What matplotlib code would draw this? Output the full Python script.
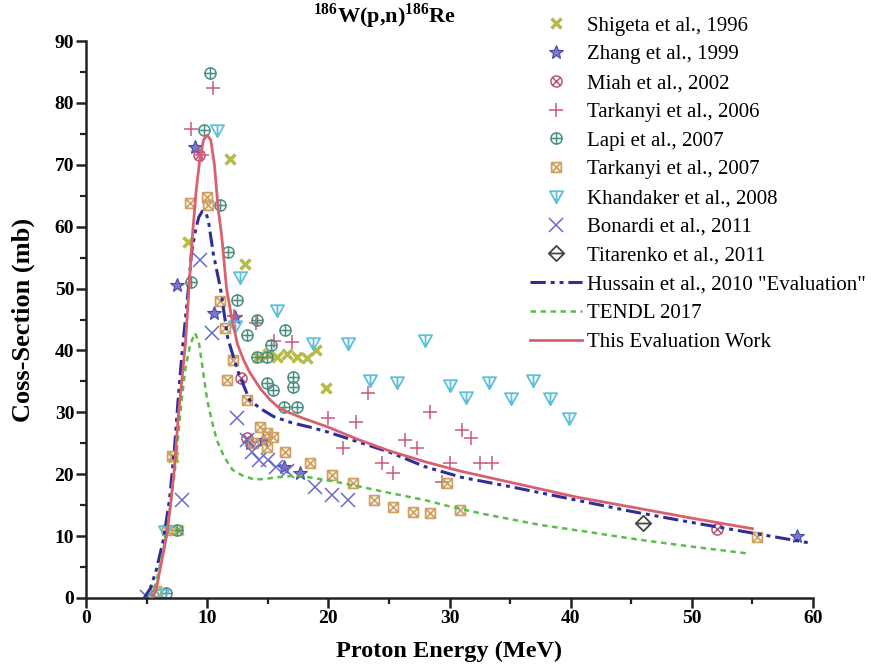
import numpy as np
import matplotlib
matplotlib.use('Agg')
import matplotlib.pyplot as plt
from matplotlib.path import Path

###############################################################################
# Data

# Experimental points (energy in MeV, cross-section in mb)
shigeta_E = [7.2, 7.6, 8.4, 11.9, 13.1, 14.2, 15.0, 15.8, 16.6, 17.4, 18.2, 19.0, 19.8]
shigeta_s = [22.8, 11.0, 57.5, 71.0, 54.0, 39.0, 39.5, 39.0, 39.5, 39.0, 38.8, 40.0, 34.0]

zhang_E = [7.5, 9.0, 10.6, 12.3, 13.5, 14.6, 16.3, 17.7, 58.7]
zhang_s = [50.6, 72.9, 46.0, 45.4, 25.0, 25.5, 21.2, 20.2, 10.0]

miah_E = [9.3, 12.8, 13.3, 52.1]
miah_s = [71.5, 35.5, 25.8, 11.1]

tark06_E = [8.7, 9.6, 10.5, 12.2, 14.0, 15.5, 17.0, 20.0, 21.2, 22.3, 23.3, 24.4,
            25.3, 26.3, 27.3, 28.4, 29.4, 30.0, 31.0, 31.8, 32.5, 33.5]
tark06_s = [75.8, 71.5, 82.4, 45.5, 44.5, 41.5, 41.4, 29.1, 24.2, 28.4, 33.1, 21.8,
            20.2, 25.5, 24.2, 30.0, 18.7, 21.8, 27.1, 25.8, 21.8, 21.8]

lapi_E = [6.6, 7.5, 8.7, 9.7, 10.2, 11.1, 11.7, 12.5, 13.3, 14.1, 14.1, 14.9,
          15.3, 16.4, 14.9, 15.4, 17.1, 17.1, 16.3, 17.4]
lapi_s = [0.8, 11.0, 51.0, 75.6, 84.8, 63.5, 55.9, 48.1, 42.5, 45.0, 38.9, 38.9,
          40.9, 43.3, 34.7, 33.6, 35.7, 34.1, 30.9, 30.9]

tark07_E = [5.8, 6.7, 7.1, 8.6, 10.0, 10.1, 11.1, 11.5, 11.6, 12.1, 13.3, 13.8,
            14.4, 14.9, 14.9, 15.4, 16.4, 18.5, 20.3, 22.0, 23.8, 25.3, 27.0,
            28.4, 29.8, 30.9, 55.4]
tark07_s = [1.2, 11.0, 23.0, 63.8, 64.8, 63.5, 48.0, 43.6, 35.2, 38.4, 32.0, 25.0,
            27.6, 26.7, 24.4, 26.0, 23.6, 21.8, 19.9, 18.6, 15.8, 14.7, 13.9,
            13.7, 18.6, 14.2, 9.9]

khand_E = [6.3, 6.5, 10.8, 12.3, 12.7, 15.8, 18.7, 21.6, 28.0, 23.4, 25.7, 30.0,
           31.4, 33.3, 35.1, 36.9, 38.3, 39.9]
khand_s = [0.5, 10.8, 75.6, 44.0, 51.9, 46.5, 41.2, 41.2, 41.7, 35.2, 34.9, 34.4,
           32.5, 34.9, 32.3, 35.2, 32.3, 29.1]

bonardi_E = [5.0, 7.9, 9.4, 10.4, 12.5, 13.3, 13.7, 14.3, 15.0, 15.7, 16.6, 18.9, 20.3, 21.6]
bonardi_s = [0.2, 15.8, 54.6, 42.8, 29.1, 25.5, 23.6, 22.3, 22.3, 21.2, 20.6, 18.0, 16.6, 15.9]

titar_E = [46.0]
titar_s = [12.1]

# Evaluated curves
hussain_E = [4.8, 5.3, 5.8, 6.4, 6.9, 7.3, 7.6, 7.9, 8.2, 8.5, 8.7, 9.0, 9.3, 9.6,
             9.9, 10.1, 10.5, 11.1, 11.7, 12.5, 13.5, 14.4, 15.5, 17.0, 18.5, 20.0,
             22.5, 25.0, 28.0, 31.0, 35.0, 40.0, 45.0, 50.0, 55.0, 59.7]
hussain_s = [0.0, 1.5, 4.5, 9.5, 16.0, 24.0, 32.0, 39.0, 45.0, 51.0, 55.7, 59.0, 61.5, 62.5,
             62.2, 61.0, 55.7, 50.0, 42.0, 36.8, 32.0, 30.6, 29.3, 28.3, 27.6, 26.8,
             25.2, 23.6, 21.2, 19.5, 18.0, 16.0, 14.0, 12.2, 10.5, 8.9]

tendl_E = [5.3, 5.8, 6.4, 6.9, 7.3, 7.6, 7.9, 8.2, 8.6, 9.0, 9.3, 9.6, 10.0, 10.4,
           10.8, 11.4, 12.1, 12.9, 13.8, 14.7, 15.7, 17.5, 20.0, 22.6, 25.0, 28.0,
           30.0, 33.0, 37.5, 41.0, 45.7, 50.0, 54.6]
tendl_s = [0.0, 2.5, 8.0, 14.0, 20.0, 26.0, 32.0, 37.0, 41.0, 42.8, 41.5, 37.5, 32.0, 28.5,
           25.5, 22.8, 20.7, 19.8, 19.2, 19.2, 19.5, 19.8, 19.0, 18.0, 17.0, 15.8,
           14.8, 13.5, 11.8, 10.8, 9.4, 8.3, 7.2]

this_E = [5.5, 5.8, 6.2, 6.7, 7.0, 7.3, 7.6, 7.9, 8.2, 8.5, 8.8, 9.1, 9.4, 9.7, 10.0,
          10.3, 10.6, 10.9, 11.2, 11.6, 12.0, 12.5, 13.0, 13.5, 14.4, 15.2, 16.0,
          17.7, 20.0, 22.6, 25.0, 28.0, 30.9, 35.0, 40.5, 45.0, 50.0, 55.0]
this_s = [0.0, 1.5, 5.5, 10.5, 15.5, 21.0, 29.0, 35.0, 41.0, 50.0, 59.0, 66.0, 71.0, 74.0, 74.8,
          74.0, 70.0, 63.0, 58.5, 50.0, 45.5, 41.0, 38.5, 36.5, 33.8, 32.0, 30.6,
          29.2, 27.6, 25.5, 23.8, 22.0, 20.5, 18.7, 16.3, 14.7, 12.9, 11.2]

###############################################################################
# Marker shapes

M, L, C = Path.MOVETO, Path.LINETO, Path.CLOSEPOLY
circ = Path.unit_circle()
circ_x = Path.make_compound_path(circ, Path([(-0.7, -0.7), (0.7, 0.7), (-0.7, 0.7), (0.7, -0.7)], [M, L, M, L]))
circ_plus = Path.make_compound_path(circ, Path([(-1, 0), (1, 0), (0, -1), (0, 1)], [M, L, M, L]))
square_x = Path([(-1, -1), (1, -1), (1, 1), (-1, 1), (-1, -1),
                 (-1, -1), (1, 1), (-1, 1), (1, -1)],
                [M, L, L, L, C, M, L, M, L])
tri_line = Path([(-1, 0.8), (1, 0.8), (0, -1), (-1, 0.8), (0, 0.8), (0, -1)],
                [M, L, L, C, M, L])
diam_line = Path([(0, 1), (1, 0), (0, -1), (-1, 0), (0, 1), (-1, 0), (1, 0)],
                 [M, L, L, L, C, M, L])

###############################################################################

plt.rcParams['font.family'] = ['Liberation Serif', 'DejaVu Serif']
plt.rcParams['mathtext.fontset'] = 'custom'
plt.rcParams['mathtext.rm'] = 'Liberation Serif'
plt.rcParams['mathtext.bf'] = 'Liberation Serif:bold'

fig = plt.figure(figsize=(8.71, 6.64), dpi=100)
ax = fig.add_axes([86/871, 1-598/664, (813-86)/871, (598-41)/664])

ms = 8
ax.plot(shigeta_E, shigeta_s, ls='none', marker='x', ms=7.5, mew=2.5, color='#b6bb45', label='Shigeta et al., 1996')
ax.plot(zhang_E, zhang_s, ls='none', marker='*', ms=10, mfc='#7a78d0', mec='#4848a8', mew=0.8, label='Zhang et al., 1999')
ax.plot(miah_E, miah_s, ls='none', marker=circ_x, ms=ms, mfc='none', mec='#b85878', mew=1.1, label='Miah et al., 2002')
ax.plot(tark06_E, tark06_s, ls='none', marker='+', ms=9.5, mew=1.1, color='#c85880', label='Tarkanyi et al., 2006')
ax.plot(lapi_E, lapi_s, ls='none', marker=circ_plus, ms=ms, mfc='none', mec='#4a8f84', mew=1.1, label='Lapi et al., 2007')
ax.plot(tark07_E, tark07_s, ls='none', marker=square_x, ms=7, mfc='none', mec='#cfa062', mew=1.3, label='Tarkanyi et al., 2007')
ax.plot(khand_E, khand_s, ls='none', marker=tri_line, ms=9.5, mfc='none', mec='#5cc0dc', mew=1.3, label='Khandaker et al., 2008')
ax.plot(bonardi_E, bonardi_s, ls='none', marker='x', ms=9.5, mew=1.1, color='#6a6acc', label='Bonardi et al., 2011')
ax.plot(titar_E, titar_s, ls='none', marker=diam_line, ms=11, mfc='none', mec='#444444', mew=1.3, label='Titarenko et al., 2011')

ax.plot(hussain_E, hussain_s, color='#2e2e96', lw=2.2, ls=(0, (5, 1.6, 1.3, 1.6, 1.3, 1.6)),
        label='Hussain et al., 2010 "Evaluation"', zorder=4)
ax.plot(tendl_E, tendl_s, color='#58c048', lw=1.8, ls=(0, (2.2, 1.8)), label='TENDL 2017', zorder=4)
ax.plot(this_E, this_s, color='#d9606e', lw=2.0, label='This Evaluation Work', zorder=5)

ax.set_xlim(0, 60)
ax.set_ylim(0, 90)
ax.set_xticks(np.arange(0, 61, 10))
ax.set_yticks(np.arange(0, 91, 10))
ax.set_xticks(np.arange(5, 60, 10), minor=True)
ax.set_yticks(np.arange(5, 90, 10), minor=True)
for s in ['top', 'right']:
    ax.spines[s].set_visible(False)
for s in ['left', 'bottom']:
    ax.spines[s].set_linewidth(1.8)
    ax.spines[s].set_color('#222222')
ax.tick_params(which='major', length=7, width=1.8, color='#222222', labelsize=14, pad=1.5)
ax.tick_params(which='minor', length=4, width=1.6, color='#222222')
for lab in ax.get_xticklabels() + ax.get_yticklabels():
    lab.set_fontweight('bold')

ax.set_xlabel('Proton Energy (MeV)', fontsize=17.5, fontweight='bold', labelpad=10)
ax.set_ylabel('Coss-Section (mb)', fontsize=19, fontweight='bold', labelpad=14)

fig.text(385/871, 1-16/664, r'$^{\mathbf{186}}$W(p,n)$^{\mathbf{186}}$Re', fontsize=16,
         fontweight='bold', ha='center', va='center')

ax.legend(loc='upper left', bbox_to_anchor=(530/871, 1-16/664), bbox_transform=fig.transFigure,
          frameon=False, fontsize=15, borderpad=0, borderaxespad=0, handlelength=2.5,
          handletextpad=0.25, labelspacing=0.44, numpoints=1)

fig.savefig('out.png', dpi=100)
